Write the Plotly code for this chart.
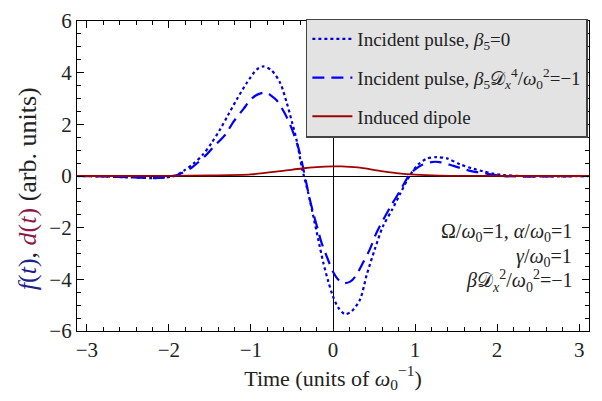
import plotly.graph_objects as go

# ---- data ----
t_b0 = [-3.12, -2.8, -2.5, -2.2, -2.05, -1.93, -1.82, -1.70, -1.585, -1.48, -1.38, -1.28, -1.17, -1.05,
        -0.93, -0.85, -0.75, -0.645, -0.565, -0.50, -0.44, -0.38, -0.30, -0.24, -0.18, -0.12, -0.057,
        0.0, 0.065, 0.146, 0.23, 0.33, 0.41, 0.51, 0.61, 0.72, 0.82, 0.94, 1.04, 1.14, 1.26, 1.39,
        1.55, 1.71, 1.83, 1.95, 2.07, 2.3, 2.6, 3.12]
f_b0 = [0.0, -0.02, -0.05, -0.08, -0.06, 0.0, 0.2, 0.48, 0.83, 1.28, 1.78, 2.35, 2.98, 3.61,
        4.12, 4.24, 4.09, 3.61, 2.85, 2.09, 1.34, 0.33, -0.68, -1.56, -2.45, -3.33, -4.09,
        -4.66, -5.10, -5.35, -5.23, -4.78, -3.84, -2.83, -1.94, -1.31, -0.68, 0.04, 0.45, 0.67, 0.73, 0.68,
        0.45, 0.28, 0.18, 0.09, 0.04, 0.0, -0.02, 0.0]

t_b5 = [-3.12, -2.8, -2.5, -2.2, -2.05, -1.89, -1.72, -1.56, -1.46, -1.30, -1.22, -1.09, -0.99, -0.90,
        -0.81, -0.75, -0.69, -0.585, -0.52, -0.44, -0.40, -0.28, -0.24, -0.18, -0.14, -0.057, 0.0,
        0.06, 0.126, 0.21, 0.27, 0.37, 0.45, 0.53, 0.70, 0.82, 0.94, 1.06, 1.20, 1.30, 1.47, 1.67,
        1.89, 2.07, 2.3, 2.6, 3.12]
f_b5 = [0.0, -0.02, -0.05, -0.08, -0.05, 0.05, 0.33, 0.77, 1.11, 1.65, 2.07, 2.60, 3.0, 3.18,
        3.23, 3.1, 2.94, 2.41, 1.97, 1.28, 0.83, -0.94, -1.44, -2.13, -2.58, -3.27, -3.71,
        -4.0, -4.15, -4.09, -3.9, -3.33, -2.83, -2.2, -1.19, -0.56, 0.08, 0.39, 0.54, 0.54, 0.39, 0.2,
        0.08, 0.0, -0.02, -0.02, 0.0]

t_dip = [-3.12, -2.5, -2.0, -1.5, -1.0, -0.61, -0.38, -0.2, 0.0, 0.1, 0.3, 0.57, 0.8, 1.0, 1.3, 1.7, 2.2, 3.12]
d_dip = [0.0, 0.0, 0.005, 0.02, 0.06, 0.20, 0.29, 0.34, 0.37, 0.37, 0.33, 0.2, 0.1, 0.05, 0.015, 0.005, 0.0, 0.0]

names = ["Incident pulse, <i>β</i><sub>5</sub>=0",
         "Incident pulse, <i>β</i><sub>5</sub>𝒟<sub><i>x</i></sub><sup>4</sup>/<i>ω</i><sub>0</sub><sup>2</sup>=−1",
         "Induced dipole"]

param_lines = ["Ω/<i>ω</i><sub>0</sub>=1, <i>α</i>/<i>ω</i><sub>0</sub>=1",
               "<i>γ</i>/<i>ω</i><sub>0</sub>=1",
               "<i>β</i>𝒟<sub><i>x</i></sub><sup>2</sup>/<i>ω</i><sub>0</sub><sup>2</sup>=−1"]

x_ticks = [-3, -2, -1, 0, 1, 2, 3]
y_ticks = [-6, -4, -2, 0, 2, 4, 6]

FONT = "Liberation Serif"
TXT = "#222"

fig = go.Figure()
fig.add_trace(go.Scatter(x=t_b0, y=f_b0, mode="lines", name=names[0], legendgroup="a",
                         line=dict(color="#0000e0", width=2.2, dash="3px,3px", shape="spline", smoothing=0.8)))
fig.add_trace(go.Scatter(x=t_b5, y=f_b5, mode="lines", name=names[1], legendgroup="b",
                         line=dict(color="#0000ff", width=2.2, dash="12px,7px", shape="spline", smoothing=0.8)))
fig.add_trace(go.Scatter(x=t_dip, y=d_dip, mode="lines", name=names[2], legendgroup="c",
                         line=dict(color="#a00000", width=1.8, shape="spline", smoothing=0.8)))

axis_common = dict(showgrid=False, showline=True, linecolor="black", linewidth=1.3, mirror="ticks",
                   ticks="inside", ticklen=7, tickwidth=1.2, tickcolor="black",
                   zeroline=True, zerolinecolor="black", zerolinewidth=1,
                   automargin=False, ticklabeloverflow="allow",
                   tickfont=dict(family=FONT, size=21, color=TXT))

fig.update_xaxes(range=[-3.12, 3.12], tickvals=x_ticks, ticktext=[str(v).replace("-", "−") for v in x_ticks],
                 minor=dict(dtick=0.2, tick0=0, ticks="inside", ticklen=4, tickcolor="black", tickwidth=1),
                 title=dict(text="Time (units of <i>ω</i><sub>0</sub><sup>−1</sup>)",
                            font=dict(family=FONT, size=22, color=TXT), standoff=4),
                 **axis_common)
fig.update_yaxes(range=[-6, 6], tickvals=y_ticks, ticktext=[str(v).replace("-", "−") for v in y_ticks],
                 minor=dict(dtick=0.5, tick0=0, ticks="inside", ticklen=4, tickcolor="black", tickwidth=1),
                 **axis_common)

# y-axis title placed as rotated text
fig.add_annotation(xref="paper", yref="paper", x=-0.096, y=0.46, xanchor="center", yanchor="middle",
                   textangle=-90, showarrow=False,
                   text="<span style='color:#20208f'><i>f</i>(<i>t</i>)</span>, "
                        "<span style='color:#8c1a45'><i>d</i>(<i>t</i>)</span> (arb. units)",
                   font=dict(family=FONT, size=26, color=TXT))

# parameter box text (three right-aligned lines)
param_y = [0.317, 0.237, 0.160]
for txt, yy in zip(param_lines, param_y):
    fig.add_annotation(xref="paper", yref="paper", x=0.971, y=yy, xanchor="right", yanchor="middle",
                       align="right", showarrow=False, text=txt,
                       font=dict(family=FONT, size=20, color=TXT))

# page body adds an 8px offset; compensate so the plot frame lands where the reference has it
fig.update_layout(
    width=594, height=393,
    margin=dict(l=69, r=13, t=11, b=70),
    paper_bgcolor="white", plot_bgcolor="white",
    showlegend=True,
    legend=dict(x=0.447, y=1.008, xanchor="left", yanchor="top",
                bgcolor="#e3e3e3", bordercolor="#444", borderwidth=1.5,
                font=dict(family=FONT, size=19, color=TXT),
                traceorder="grouped", tracegroupgap=11, itemwidth=40),
)

fig.write_html("out.html")
